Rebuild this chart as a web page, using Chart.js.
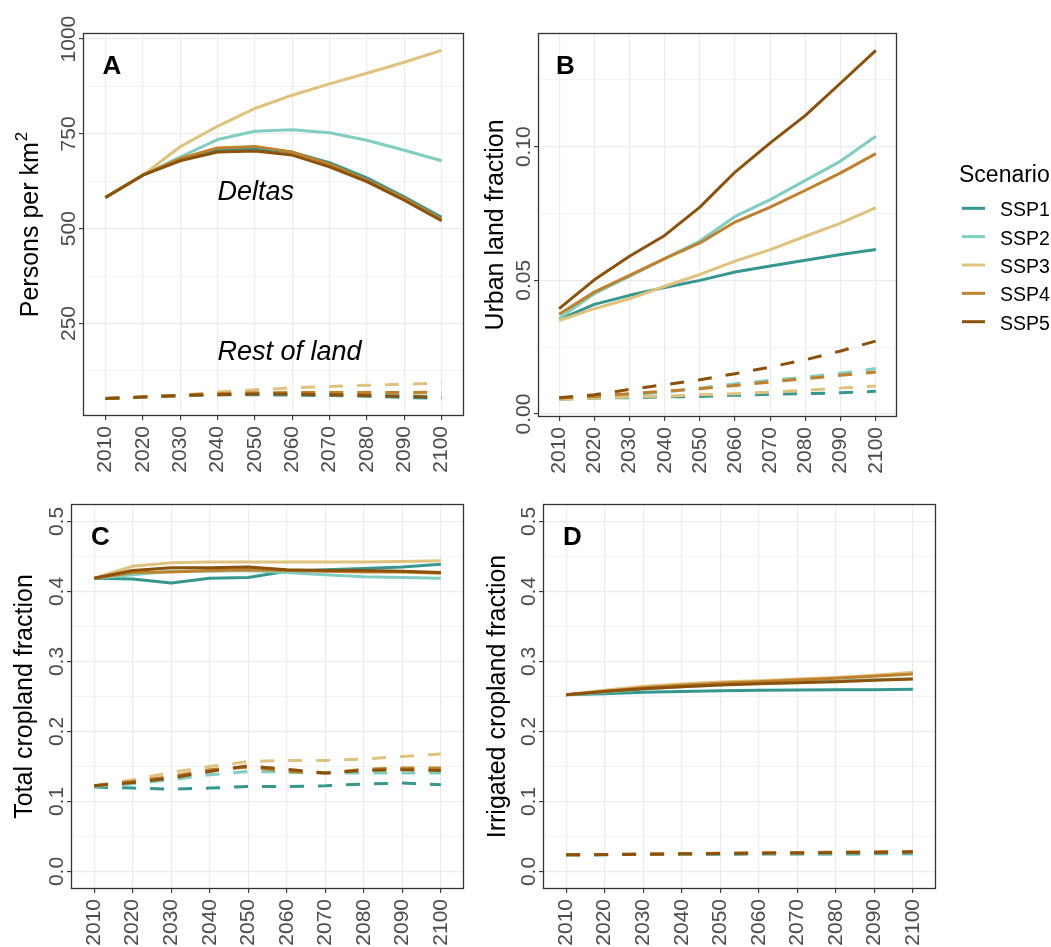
<!DOCTYPE html>
<html>
<head>
<meta charset="utf-8">
<script src="https://cdn.jsdelivr.net/npm/chart.js@4.4.1/dist/chart.umd.min.js"></script>
<style>
  body { margin: 0; background: #ffffff; }
  #wrap { position: relative; width: 1051px; height: 947px; }
  #wrap canvas { position: absolute; }
</style>
</head>
<body>
<div id="wrap">
  <canvas id="cA" width="480" height="480" style="left:0px;top:0px"></canvas>
  <canvas id="cB" width="571" height="480" style="left:480px;top:0px"></canvas>
  <canvas id="cC" width="480" height="467" style="left:0px;top:480px"></canvas>
  <canvas id="cD" width="571" height="467" style="left:480px;top:480px"></canvas>
</div>
<script>
// x categories and scenarios
const years = [2010, 2020, 2030, 2040, 2050, 2060, 2070, 2080, 2090, 2100];
const scenarios = ["SSP1", "SSP2", "SSP3", "SSP4", "SSP5"];
const colors = ["#35978F", "#80CDC1", "#DFC27D", "#BF812D", "#8C510A"];

// A: population density (persons per km2), rows = SSP1..SSP5
const densityDeltas = [
    [582, 641, 682, 709, 711, 702, 674, 634, 584, 530],
    [582, 641, 689, 735, 757, 761, 753, 733, 707, 679],
    [582, 641, 716, 770, 817, 852, 882, 910, 939, 970],
    [582, 641, 685, 713, 717, 702, 670, 628, 580, 525],
    [582, 641, 679, 702, 705, 694, 663, 624, 575, 521]
];
const densityRest = [
    [52, 56, 60, 62, 62, 61, 60, 58, 55, 52],
    [52, 56, 60, 64, 65, 65, 64, 62, 60, 58],
    [52, 56, 61, 69, 75, 80, 84, 87, 90, 93],
    [52, 56, 60, 65, 67, 68, 68, 68, 68, 69],
    [52, 56, 60, 62, 64, 64, 62, 60, 58, 55]
];

// B: urban land fraction
const urbanDeltas = [
    [0.0353, 0.0410, 0.0444, 0.0473, 0.0500, 0.0531, 0.0554, 0.0575, 0.0597, 0.0615],
    [0.0357, 0.0450, 0.0515, 0.0581, 0.0647, 0.0739, 0.0802, 0.0874, 0.0946, 0.1039],
    [0.0350, 0.0394, 0.0431, 0.0478, 0.0522, 0.0572, 0.0615, 0.0665, 0.0714, 0.0772],
    [0.0373, 0.0456, 0.0519, 0.0581, 0.0640, 0.0718, 0.0774, 0.0837, 0.0902, 0.0974],
    [0.0394, 0.0502, 0.0590, 0.0668, 0.0774, 0.0905, 0.1014, 0.1117, 0.1238, 0.1360]
];
const urbanRest = [
    [0.0055, 0.0060, 0.0061, 0.0064, 0.0066, 0.0070, 0.0074, 0.0076, 0.0080, 0.0085],
    [0.0057, 0.0064, 0.0072, 0.0082, 0.0097, 0.0113, 0.0126, 0.0138, 0.0153, 0.0170],
    [0.0055, 0.0060, 0.0064, 0.0067, 0.0072, 0.0076, 0.0082, 0.0089, 0.0097, 0.0105],
    [0.0060, 0.0066, 0.0076, 0.0086, 0.0095, 0.0107, 0.0120, 0.0132, 0.0145, 0.0157],
    [0.0061, 0.0072, 0.0092, 0.0110, 0.0128, 0.0151, 0.0176, 0.0203, 0.0236, 0.0273]
];

// C: total cropland fraction
const cropDeltas = [
    [0.419, 0.418, 0.412, 0.419, 0.420, 0.429, 0.431, 0.433, 0.435, 0.439],
    [0.419, 0.424, 0.429, 0.429, 0.430, 0.427, 0.424, 0.421, 0.420, 0.419],
    [0.419, 0.436, 0.441, 0.442, 0.442, 0.442, 0.442, 0.442, 0.443, 0.444],
    [0.419, 0.427, 0.428, 0.430, 0.431, 0.430, 0.429, 0.428, 0.428, 0.426],
    [0.419, 0.430, 0.434, 0.434, 0.435, 0.431, 0.430, 0.430, 0.429, 0.427]
];
const cropRest = [
    [0.1206, 0.1192, 0.1177, 0.1192, 0.1215, 0.1215, 0.1225, 0.1249, 0.1263, 0.1239],
    [0.1215, 0.1254, 0.1310, 0.1382, 0.1430, 0.1416, 0.1406, 0.1406, 0.1406, 0.1406],
    [0.1225, 0.1310, 0.1416, 0.1500, 0.1570, 0.1587, 0.1587, 0.1606, 0.1644, 0.1678],
    [0.1225, 0.1287, 0.1358, 0.1454, 0.1490, 0.1430, 0.1406, 0.1460, 0.1478, 0.1478],
    [0.1225, 0.1270, 0.1335, 0.1430, 0.1510, 0.1460, 0.1406, 0.1444, 0.1454, 0.1444]
];

// D: irrigated cropland fraction
const irrigDeltas = [
    [0.2526, 0.2540, 0.2560, 0.2570, 0.2583, 0.2588, 0.2593, 0.2598, 0.2598, 0.2602],
    [0.2526, 0.2560, 0.2607, 0.2641, 0.2669, 0.2688, 0.2707, 0.2722, 0.2741, 0.2755],
    [0.2526, 0.2588, 0.2645, 0.2679, 0.2707, 0.2726, 0.2750, 0.2770, 0.2803, 0.2846],
    [0.2526, 0.2574, 0.2626, 0.2660, 0.2688, 0.2712, 0.2736, 0.2760, 0.2788, 0.2822],
    [0.2526, 0.2570, 0.2612, 0.2641, 0.2664, 0.2683, 0.2698, 0.2712, 0.2731, 0.2750]
];
const irrigRest = [
    [0.0238, 0.0240, 0.0243, 0.0245, 0.0247, 0.0249, 0.0250, 0.0251, 0.0252, 0.0253],
    [0.0238, 0.0241, 0.0245, 0.0249, 0.0253, 0.0256, 0.0259, 0.0262, 0.0264, 0.0266],
    [0.0238, 0.0243, 0.0249, 0.0255, 0.0261, 0.0266, 0.0271, 0.0276, 0.0281, 0.0288],
    [0.0238, 0.0243, 0.0248, 0.0254, 0.0259, 0.0264, 0.0269, 0.0274, 0.0279, 0.0285],
    [0.0238, 0.0242, 0.0247, 0.0252, 0.0257, 0.0261, 0.0265, 0.0269, 0.0273, 0.0277]
];

// y axis breaks
const densityMajor = [250, 500, 750, 1000];
const densityMinor = [125, 375, 625, 875];
const densityLabels = ["250", "500", "750", "1000"];
const urbanMajor = [0, 0.05, 0.10];
const urbanMinor = [0.025, 0.075, 0.125];
const urbanLabels = ["0.00", "0.05", "0.10"];
const fracMajor = [0, 0.1, 0.2, 0.3, 0.4, 0.5];
const fracMinor = [0.05, 0.15, 0.25, 0.35, 0.45];
const fracLabels = ["0.0", "0.1", "0.2", "0.3", "0.4", "0.5"];

const FONT = '"Liberation Sans", Arial, sans-serif';

function makeDatasets(solid, dashed) {
    const sets = [];
    scenarios.forEach(function (s, i) {
        const common = {
            borderColor: colors[i],
            borderWidth: 3,
            pointRadius: 0,
            tension: 0,
            fill: false,
            borderCapStyle: "butt",
            borderJoinStyle: "round",
            order: 5 - i
        };
        sets.push(Object.assign({ label: s, data: years.map((yr, k) => ({ x: yr, y: solid[i][k] })) }, common));
        sets.push(Object.assign({ label: s + " rest", borderDash: [14, 14], data: years.map((yr, k) => ({ x: yr, y: dashed[i][k] })) }, common));
    });
    return sets;
}

// draws border, rotated y labels, titles, letters, notes and legend
function makeDeco(cfg) {
    return {
        id: "deco",
        afterDraw(chart) {
            const ctx = chart.ctx;
            const a = chart.chartArea;
            const xs = chart.scales.x;
            const ys = chart.scales.y;
            ctx.save();

            // panel border
            ctx.strokeStyle = "#333333";
            ctx.lineWidth = 1.3;
            const l = Math.round(a.left) + 0.5, t = Math.round(a.top) + 0.5;
            const r = Math.round(a.right) - 0.5, b = Math.round(a.bottom) - 0.5;
            ctx.strokeRect(l, t, r - l, b - t);

            // y tick labels, rotated
            ctx.fillStyle = "#4D4D4D";
            ctx.font = "21px " + FONT;
            ctx.textAlign = "center";
            ctx.textBaseline = "alphabetic";
            cfg.major.forEach(function (v, i) {
                ctx.save();
                ctx.translate(a.left - 8, ys.getPixelForValue(v));
                ctx.rotate(-Math.PI / 2);
                ctx.fillText(cfg.labels[i], 0, 0);
                ctx.restore();
            });

            // y axis title
            ctx.fillStyle = "#000000";
            ctx.save();
            ctx.translate(cfg.titleX, (a.top + a.bottom) / 2);
            ctx.rotate(-Math.PI / 2);
            ctx.textAlign = "left";
            ctx.font = "25px " + FONT;
            const w1 = ctx.measureText(cfg.title).width;
            let w2 = 0;
            if (cfg.sup) {
                ctx.font = "17px " + FONT;
                w2 = ctx.measureText(cfg.sup).width + 1;
            }
            ctx.font = "25px " + FONT;
            ctx.fillText(cfg.title, -(w1 + w2) / 2, 0);
            if (cfg.sup) {
                ctx.font = "17px " + FONT;
                ctx.fillText(cfg.sup, -(w1 + w2) / 2 + w1 + 1, -11);
            }
            ctx.restore();

            // panel letter
            ctx.font = "bold 26px " + FONT;
            ctx.textAlign = "left";
            ctx.fillText(cfg.letter, xs.getPixelForValue(2010) - 3, a.top + 40.5);

            // notes
            (cfg.notes || []).forEach(function (n) {
                ctx.font = "italic 27px " + FONT;
                ctx.textAlign = "left";
                ctx.fillText(n.text, xs.getPixelForValue(n.x), ys.getPixelForValue(n.y) + 9.7);
            });

            // legend
            if (cfg.legend) {
                ctx.textAlign = "left";
                ctx.font = "23px " + FONT;
                ctx.fillText("Scenario", 479, 182);
                ctx.font = "19.5px " + FONT;
                scenarios.forEach(function (s, i) {
                    const ky = 208.3 + i * 28.35;
                    ctx.strokeStyle = colors[i];
                    ctx.lineWidth = 3;
                    ctx.lineCap = "butt";
                    ctx.beginPath();
                    ctx.moveTo(482, ky);
                    ctx.lineTo(505, ky);
                    ctx.stroke();
                    ctx.fillStyle = "#000000";
                    ctx.fillText(s, 520, ky + 8);
                });
            }
            ctx.restore();
        }
    };
}

function makeChart(id, p) {
    const allY = p.major.concat(p.minor);
    const isMajor = (v) => p.major.some((m) => Math.abs(m - v) < 1e-9);
    new Chart(document.getElementById(id), {
        type: "line",
        data: { datasets: makeDatasets(p.solid, p.dashed) },
        options: {
            responsive: false,
            animation: false,
            events: [],
            layout: { padding: { left: 0, top: p.top, right: p.right, bottom: 0 } },
            plugins: { legend: { display: false }, tooltip: { enabled: false } },
            scales: {
                x: {
                    type: "linear",
                    min: 2004,
                    max: 2106,
                    afterBuildTicks: (axis) => { axis.ticks = years.map((v) => ({ value: v })); },
                    afterFit: (scale) => { scale.height = p.xH; },
                    border: { display: false },
                    grid: { color: "#EBEBEB", lineWidth: 1.2, tickColor: "#333333", tickLength: 4, tickWidth: 1.1 },
                    ticks: {
                        autoSkip: false,
                        minRotation: 90,
                        maxRotation: 90,
                        padding: 6,
                        color: "#4D4D4D",
                        font: { family: FONT, size: 21 },
                        callback: (value) => String(value)
                    }
                },
                y: {
                    min: p.min,
                    max: p.max,
                    afterBuildTicks: (axis) => { axis.ticks = allY.map((v) => ({ value: v })); },
                    afterFit: (scale) => { scale.width = p.yW; },
                    border: { display: false },
                    grid: {
                        color: "#EBEBEB",
                        lineWidth: (c) => (c.tick && isMajor(c.tick.value) ? 1.2 : 0.6),
                        tickColor: (c) => (c.tick && isMajor(c.tick.value) ? "#333333" : "rgba(0,0,0,0)"),
                        tickLength: 4,
                        tickWidth: 1.1
                    },
                    ticks: { display: false }
                }
            }
        },
        plugins: [makeDeco(p)]
    });
}

makeChart("cA", {
    solid: densityDeltas, dashed: densityRest,
    min: 6, max: 1016, major: densityMajor, minor: densityMinor, labels: densityLabels,
    top: 33, right: 16, yW: 83, xH: 64,
    title: "Persons per km", sup: "2", titleX: 38, letter: "A",
    notes: [{ text: "Deltas", x: 2040, y: 600 }, { text: "Rest of land", x: 2040, y: 180 }]
});
makeChart("cB", {
    solid: urbanDeltas, dashed: urbanRest,
    min: -0.0011, max: 0.1425, major: urbanMajor, minor: urbanMinor, labels: urbanLabels,
    top: 33, right: 154, yW: 58, xH: 63,
    title: "Urban land fraction", titleX: 22.5, letter: "B", legend: true
});
makeChart("cC", {
    solid: cropDeltas, dashed: cropRest,
    min: -0.025, max: 0.525, major: fracMajor, minor: fracMinor, labels: fracLabels,
    top: 24, right: 16, yW: 71, xH: 58,
    title: "Total cropland fraction", titleX: 31.5, letter: "C"
});
makeChart("cD", {
    solid: irrigDeltas, dashed: irrigRest,
    min: -0.025, max: 0.525, major: fracMajor, minor: fracMinor, labels: fracLabels,
    top: 24, right: 115, yW: 63, xH: 58,
    title: "Irrigated cropland fraction", titleX: 25, letter: "D"
});
</script>
</body>
</html>
